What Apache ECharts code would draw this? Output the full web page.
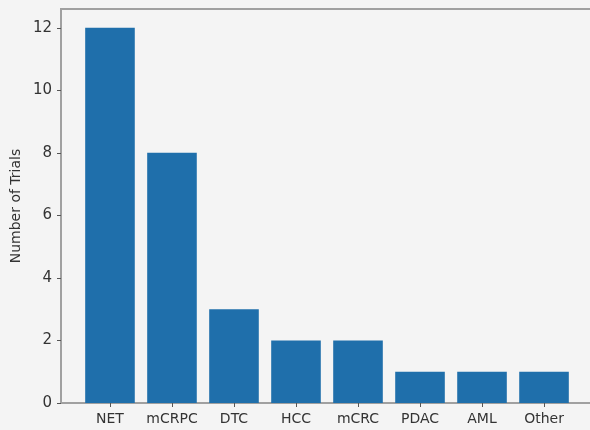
<!DOCTYPE html>
<html>
<head>
<meta charset="utf-8">
<script src="https://cdn.jsdelivr.net/npm/echarts@6/dist/echarts.min.js"></script>
<style>
html,body{margin:0;padding:0;background:#f4f4f4;}
#c{width:590px;height:430px;}
</style>
</head>
<body>
<div id="c"></div>
<script>
const categories = ["NET", "mCRPC", "DTC", "HCC", "mCRC", "PDAC", "AML", "Other"];
const trials = [12, 8, 3, 2, 2, 1, 1, 1];
const yTicks = [0, 2, 4, 6, 8, 10, 12];

const chart = echarts.init(document.getElementById('c'), null, {renderer: 'canvas'});
const idx = categories.map((_, i) => i);
const font = 'DejaVu Sans';
const axisColor = '#a0a0a0';
chart.setOption({
  backgroundColor: '#f4f4f4',
  animation: false,
  grid: {
    left: 61, top: 9, width: 532, bottom: 27,
    containLabel: false, outerBoundsMode: 'none',
    show: true, borderColor: axisColor, borderWidth: 2, backgroundColor: 'transparent'
  },
  xAxis: {
    type: 'value',
    min: -0.79, max: 7.79,
    splitLine: {show: false},
    axisLine: {show: true, onZero: false, lineStyle: {color: axisColor, width: 2}},
    axisTick: {show: true, customValues: idx, length: 4, lineStyle: {color: '#555', width: 1}},
    axisLabel: {
      customValues: idx, margin: 9,
      formatter: v => categories[Math.round(v)],
      color: '#333', fontFamily: font, fontSize: 14
    }
  },
  yAxis: {
    type: 'value',
    min: 0, max: 12.6,
    name: 'Number of Trials',
    nameLocation: 'middle',
    nameGap: 38,
    nameMoveOverlap: false,
    nameTextStyle: {color: '#333', fontFamily: font, fontSize: 14},
    splitLine: {show: false},
    axisLine: {show: true, onZero: false, lineStyle: {color: axisColor, width: 2}},
    axisTick: {show: true, customValues: yTicks, length: 4, lineStyle: {color: '#555', width: 1}},
    axisLabel: {
      customValues: yTicks, margin: 9,
      color: '#333', fontFamily: font, fontSize: 15
    }
  },
  series: [{
    type: 'bar',
    barWidth: 49.6,
    itemStyle: {color: '#1f6fab'},
    data: idx.map(i => [i, trials[i]])
  }]
});
</script>
</body>
</html>
